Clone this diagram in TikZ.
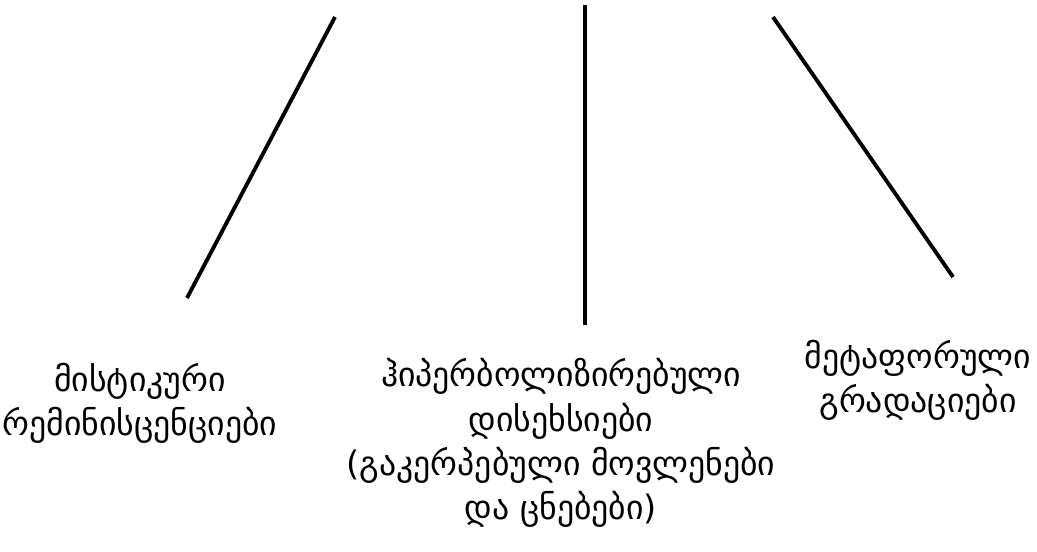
\documentclass[tikz,border=0pt]{standalone}
\usepackage{fontspec}
\setmainfont{DejaVu Sans}
\usetikzlibrary{positioning}
\tikzset{
  lbl/.style={align=center, inner sep=0pt, font=\fontsize{9.6}{12.6}\selectfont},
  bar/.style={line width=1.1pt}
}
\begin{document}
\begin{tikzpicture}[x=1cm, y=1cm]
  \useasboundingbox (0,0) rectangle (10.37,5.52);
  % lines (1 unit = 100 px, y measured from bottom)
  \coordinate (l1) at (3.35,5.35);
  \coordinate (l2) at (1.87,2.54);
  \coordinate (m1) at (5.85,5.47);
  \coordinate (m2) at (5.85,2.27);
  \coordinate (r1) at (7.73,5.35);
  \coordinate (r2) at (9.53,2.75);
  \draw[bar] (l1) -- (l2);
  \draw[bar] (m1) -- (m2);
  \draw[bar] (r1) -- (r2);
  % labels
  \node[lbl] (mist) at (1.40,1.49) {მისტიკური\\რემინისცენციები};
  \node[lbl] (hiper) at (5.61,1.09) {ჰიპერბოლიზირებული\\დისეხსიები\\(გაკერპებული მოვლენები\\და ცნებები)};
  \node[lbl] (meta) at (9.18,1.72) {მეტაფორული\\გრადაციები};
\end{tikzpicture}
\end{document}
